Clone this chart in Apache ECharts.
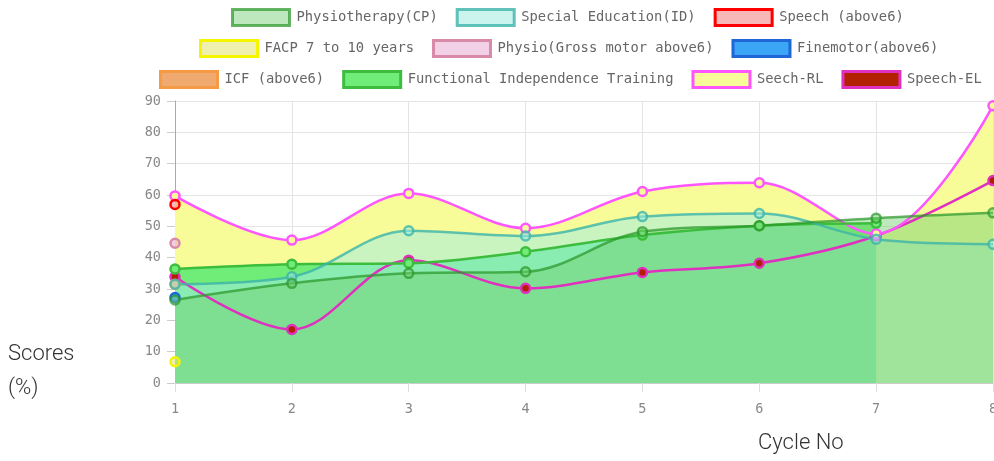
<!DOCTYPE html>
<html>
<head>
<meta charset="utf-8">
<script src="https://cdn.jsdelivr.net/npm/echarts@6/dist/echarts.min.js"></script>
<style>
html,body{margin:0;padding:0;background:#fff;}
#chart{width:994px;height:461px;}
</style>
</head>
<body>
<div id="chart"></div>
<script>
// ---- data ----
const cycles = ['1', '2', '3', '4', '5', '6', '7', '8'];
const yTicks = [0, 10, 20, 30, 40, 50, 60, 70, 80, 90];

const physioCP      = [26.5, 31.8, 35.0, 35.5, 48.3, 50.2, 52.6, 54.3];
const specialEd     = [31.5, 33.9, 48.6, 46.9, 53.1, 54.1, 45.9, 44.3];
const speechAbove6  = [57.0];
const facp7to10     = [6.8];
const physioGross   = [44.6];
const finemotor     = [27.3];
const icfAbove6     = [31.5];
const fitTraining   = [36.4, 37.9, 38.2, 41.9, 47.2, 50.2, 51.0];
const seechRL       = [59.7, 45.6, 60.5, 49.4, 61.1, 63.9, 47.6, 88.5];
const speechEL      = [33.9, 17.1, 39.2, 30.2, 35.3, 38.2, 47.0, 64.6];

const names = [
  'Physiotherapy(CP)', 'Special Education(ID)', 'Speech (above6)',
  'FACP 7 to 10 years', 'Physio(Gross motor above6)', 'Finemotor(above6)',
  'ICF (above6)', 'Functional Independence Training', 'Seech-RL', 'Speech-EL'
];
const values = [physioCP, specialEd, speechAbove6, facp7to10, physioGross, finemotor,
                icfAbove6, fitTraining, seechRL, speechEL];

// ---- styles ----
const fills = [
  'rgba(115,208,113,0.47)', 'rgba(160,236,225,0.535)', 'rgba(245,120,120,0.5)',
  'rgba(225,225,110,0.55)', 'rgba(232,160,205,0.5)', 'rgba(58,166,245,1)',
  'rgba(240,170,112,1)', 'rgba(112,236,120,1)', 'rgba(248,252,152,1)', 'rgba(178,34,0,1)'
];
const legendFills = [
  '#bde7bc', '#ccf4ef', '#f8b8b8', '#eff0ae', '#f2d0e6', '#3aa6f5',
  '#f0aa70', '#70ec78', '#f8fc98', '#b22200'
];
const lines = [
  'rgba(40,150,40,0.7)', 'rgba(60,180,170,0.8)', '#ff0000',
  '#f5f500', '#d88aa8', '#1f66d6',
  '#f59a45', '#3dbd3d', '#ff55ff', '#e030c0'
];
const hasArea = [true, true, true, true, true, true, true, true, true, false];

const mono = 'DejaVu Sans Mono';

// draw order: last dataset at the bottom, first on top
const series = [];
for (let i = names.length - 1; i >= 0; i--) {
  const s = {
    name: names[i],
    type: 'line',
    data: values[i],
    smooth: 0.35,
    symbol: 'circle',
    symbolSize: 9,
    showSymbol: true,
    lineStyle: { color: lines[i], width: 2.5 },
    itemStyle: { color: i === 9 ? '#b21e00' : fills[i], borderColor: lines[i], borderWidth: 2.5 },
    emphasis: { disabled: true },
    z: 2
  };
  if (hasArea[i]) s.areaStyle = { color: fills[i], opacity: 1, origin: 'start' };
  series.push(s);
}

function legendRow(idx, left, top) {
  return {
    left: left, top: top, padding: 0,
    icon: 'rect', itemWidth: 57, itemHeight: 16, itemGap: 18,
    textStyle: { fontFamily: mono, fontSize: 13.8, color: '#666', padding: [0, 0, 0, 2] },
    selectedMode: false,
    data: idx.map(i => ({
      name: names[i],
      icon: 'rect',
      itemStyle: { color: legendFills[i], borderColor: lines[i], borderWidth: 3, opacity: 1 }
    }))
  };
}

const chart = echarts.init(document.getElementById('chart'), null, { renderer: 'canvas' });
chart.setOption({
  animation: false,
  backgroundColor: '#ffffff',
  legend: [
    legendRow([0, 1, 2], 231, 8),
    legendRow([3, 4, 5], 199, 39),
    legendRow([6, 7, 8, 9], 159, 70)
  ],
  grid: { left: 175, right: 1, top: 101, bottom: 78, containLabel: false, outerBoundsMode: 'none' },
  xAxis: {
    type: 'category',
    data: cycles,
    boundaryGap: false,
    axisLine: { show: true, lineStyle: { color: '#cccccc' } },
    axisTick: { show: true, length: 9, lineStyle: { color: '#dddddd' } },
    axisLabel: { margin: 19, fontFamily: mono, fontSize: 13.5, color: '#888' },
    splitLine: { show: true, lineStyle: { color: '#e4e4e4' } }
  },
  yAxis: {
    type: 'value',
    min: yTicks[0], max: yTicks[yTicks.length - 1], interval: 10,
    axisLine: { show: true, lineStyle: { color: '#aaaaaa' } },
    axisTick: { show: true, length: 8, lineStyle: { color: '#cccccc' } },
    axisLabel: { margin: 14, fontFamily: mono, fontSize: 13.5, color: '#888' },
    splitLine: { show: true, lineStyle: { color: '#e4e4e4' } }
  },
  graphic: [
    { type: 'text', left: 8, top: 343, style: { text: 'Scores', font: '300 22px Roboto', fill: '#333' } },
    { type: 'text', left: 8, top: 377, style: { text: '(%)', font: '300 22px Roboto', fill: '#333' } },
    { type: 'text', left: 758, top: 432, style: { text: 'Cycle No', font: '300 22px Roboto', fill: '#333' } }
  ],
  series: series
});
</script>
</body>
</html>
